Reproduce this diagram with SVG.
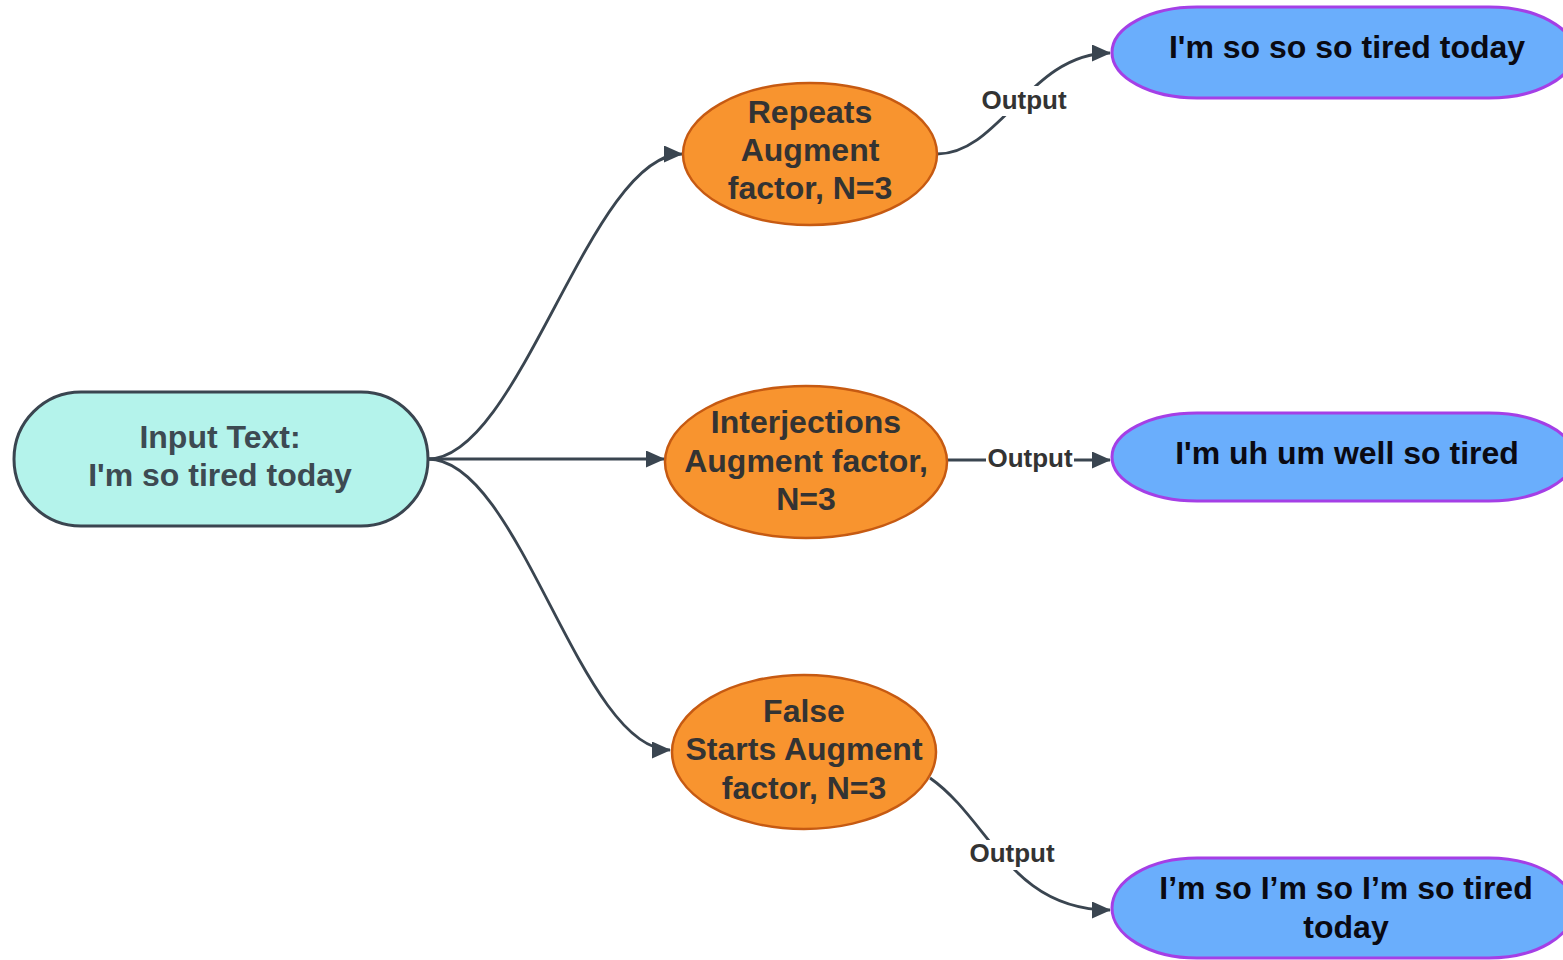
<svg xmlns="http://www.w3.org/2000/svg" width="1563" height="960" viewBox="0 0 1563 960">
  <style>
    .txt { font-family: "Liberation Sans", Arial, sans-serif; font-weight: bold; text-anchor: middle; }
    .input-shape { fill: #b4f3eb; stroke: #3a4550; stroke-width: 3; }
    .input-txt { font-size: 32px; fill: #3d4a52; }
    .aug-shape { fill: #f8942f; stroke: #c65a12; stroke-width: 2.5; }
    .aug-txt { font-size: 32px; fill: #333333; }
    .out-shape { fill: #6aaefc; stroke: #a43fe6; stroke-width: 3; }
    .out-txt { font-size: 32px; fill: #0a0a12; }
    .edge { fill: none; stroke: #3a4550; stroke-width: 2.8; }
    .lbl-bg { fill: #ffffff; }
    .lbl { font-size: 26px; fill: #333333; }
  </style>
  <defs>
    <marker id="arrow" viewBox="0 0 19 17" refX="18" refY="8.5" markerWidth="19" markerHeight="17" markerUnits="userSpaceOnUse" orient="auto">
      <path d="M0,0 L19,8.5 L0,17 Z" fill="#3a4550"/>
    </marker>
  </defs>

  <rect width="1563" height="960" fill="#ffffff"/>

  <!-- connectors -->
  <g id="connectors">
    <path class="edge" d="M428,459 C520,459 590,154 682,154" marker-end="url(#arrow)"/>
    <path class="edge" d="M428,459 L664,459" marker-end="url(#arrow)"/>
    <path class="edge" d="M428,459 C520,459 580,750 670,750" marker-end="url(#arrow)"/>

    <path class="edge" d="M937,154 C1000,154 1030,53 1110,53" marker-end="url(#arrow)"/>
    <path class="edge" d="M948,460 L1110,460" marker-end="url(#arrow)"/>
    <path class="edge" d="M930,778 C990,820 1010,910 1110,910" marker-end="url(#arrow)"/>

    <rect class="lbl-bg" x="978" y="86" width="92" height="30"/>
    <text class="txt lbl" x="1024" y="109">Output</text>
    <rect class="lbl-bg" x="986" y="445" width="88" height="30"/>
    <text class="txt lbl" x="1030" y="467">Output</text>
    <rect class="lbl-bg" x="966" y="840" width="92" height="30"/>
    <text class="txt lbl" x="1012" y="862">Output</text>
  </g>

  <!-- input node -->
  <g id="input">
    <rect class="input-shape" x="14" y="392" width="414" height="134" rx="67" ry="67"/>
    <text class="txt input-txt" x="220" y="448">Input Text:</text>
    <text class="txt input-txt" x="220" y="486">I'm so tired today</text>
  </g>

  <!-- augmentation nodes -->
  <g id="repeats">
    <ellipse class="aug-shape" cx="810" cy="154" rx="127" ry="71"/>
    <text class="txt aug-txt" x="810" y="123">Repeats</text>
    <text class="txt aug-txt" x="810" y="161">Augment</text>
    <text class="txt aug-txt" x="810" y="199">factor, N=3</text>
  </g>

  <g id="interjections">
    <ellipse class="aug-shape" cx="806" cy="462" rx="141" ry="76"/>
    <text class="txt aug-txt" x="806" y="433">Interjections</text>
    <text class="txt aug-txt" x="806" y="472">Augment factor,</text>
    <text class="txt aug-txt" x="806" y="510">N=3</text>
  </g>

  <g id="false-starts">
    <ellipse class="aug-shape" cx="804" cy="752" rx="132" ry="77"/>
    <text class="txt aug-txt" x="804" y="722">False</text>
    <text class="txt aug-txt" x="804" y="760">Starts Augment</text>
    <text class="txt aug-txt" x="804" y="799">factor, N=3</text>
  </g>

  <!-- output nodes -->
  <g id="out-repeats">
    <rect class="out-shape" x="1112" y="7" width="462" height="91" rx="85" ry="45.5"/>
    <text class="txt out-txt" x="1347" y="58">I'm so so so tired today</text>
  </g>

  <g id="out-interjections">
    <rect class="out-shape" x="1112" y="413" width="462" height="88" rx="85" ry="44"/>
    <text class="txt out-txt" x="1347" y="464">I'm uh um well so tired</text>
  </g>

  <g id="out-false-starts">
    <rect class="out-shape" x="1112" y="858" width="462" height="100" rx="85" ry="50"/>
    <text class="txt out-txt" x="1346" y="899">I’m so I’m so I’m so tired</text>
    <text class="txt out-txt" x="1346" y="938">today</text>
  </g>
</svg>
